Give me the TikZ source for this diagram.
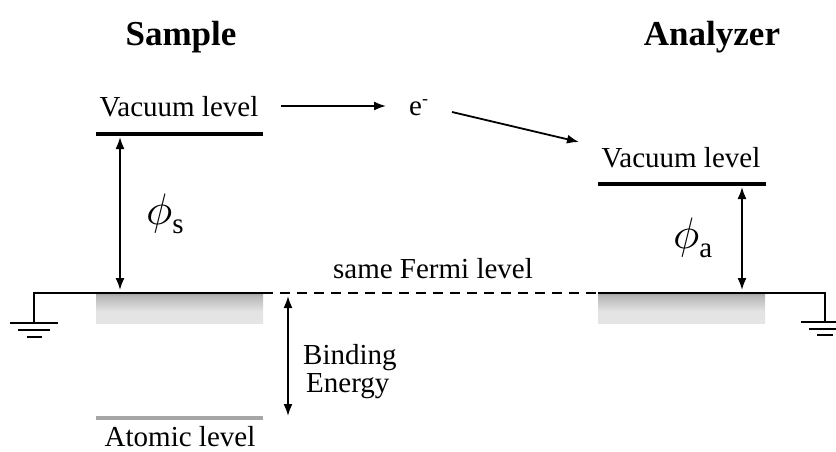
\documentclass[tikz,border=0pt]{standalone}
\usepackage{fontspec}
\setmainfont{Liberation Serif}
\usetikzlibrary{arrows.meta}
% grey band under the Fermi level: dark at the top, light below
\pgfdeclareverticalshading{bandshade}{100bp}{color(0bp)=(black!9); color(45bp)=(black!11); color(70bp)=(black!28); color(90bp)=(black!62); color(100bp)=(black!95)}
\begin{document}
\begin{tikzpicture}[x=1pt,y=-1pt,
  lvl/.style={line width=3.5pt},
  wire/.style={line width=2pt},
  arr/.style={line width=1.8pt,-{Latex[length=12pt,width=9pt]}},
  darr/.style={line width=1.8pt,{Latex[length=12pt,width=9pt]}-{Latex[length=12pt,width=9pt]}},
  txt/.style={inner sep=0pt,anchor=base,font=\fontsize{29}{32}\selectfont},
  title/.style={inner sep=0pt,anchor=base,font=\fontsize{35}{40}\selectfont\bfseries},
  sym/.style={inner sep=0pt,anchor=base west},
  band/.style={shading=bandshade}]
\useasboundingbox (0,0) rectangle (836,452);

% titles
\node[title] (tS) at (181,46) {Sample};
\node[title] (tA) at (712,46) {Analyzer};

% vacuum levels
\node[txt] (vacS) at (179,117) {Vacuum level};
\draw[lvl] (96,134) coordinate (vSl) -- (263,134) coordinate (vSr);
\node[txt] (vacA) at (681,167) {Vacuum level};
\draw[lvl] (598,184) coordinate (vAl) -- (766,184) coordinate (vAr);

% photoelectron
\node[sym,font=\fontsize{29}{32}\selectfont] (e) at (409,115) {e\raisebox{10pt}{\fontsize{18}{18}\selectfont -}};
\coordinate (a1) at (281,106);
\coordinate (a1e) at (386,106);
\coordinate (a2s) at (452,112);
\coordinate (a2) at (579,142);
\draw[arr] (a1) -- (a1e);
\draw[arr] (a2s) -- (a2);

% bands below the Fermi level
\shade[band] (96,293) rectangle (263,323);
\shade[band] (598,293) rectangle (765,323);

% Fermi level and ground wiring
\draw[wire] (34,323) coordinate (gL) -- (34,293) -- (263,293) coordinate (fL);
\draw[wire] (598,293) coordinate (fR) -- (825,293) -- (825,322) coordinate (gR);
\draw[line width=2pt,dash pattern=on 10pt off 7pt] (fL) -- (fR);
\node[txt] (fermi) at (433,278) {same Fermi level};

% ground symbols
\draw[wire] (10,323) -- (58,323) (18,330) -- (50,330) (27,337) -- (42,337);
\draw[wire] (801,322) -- (849,322) (809,329) -- (841,329) (817,335) -- (833,335);

% work functions
\draw[darr] (120,137) coordinate (pS1) -- (120,290) coordinate (pS2);
\node[sym] (phiS) at (146,224) {\scalebox{4.4}{$\phi$}\raisebox{-9pt}{\fontsize{29}{29}\selectfont s}};
\draw[darr] (742,187) coordinate (pA1) -- (742,290) coordinate (pA2);
\node[sym] (phiA) at (673,248) {\scalebox{4.4}{$\phi$}\raisebox{-9.5pt}{\fontsize{29}{29}\selectfont a}};

% binding energy
\draw[darr] (288,296) coordinate (b1) -- (288,416) coordinate (b2);
\node[txt,anchor=base west] (bind) at (303,364) {Binding};
\node[txt,anchor=base west] (ener) at (306,392) {Energy};

% atomic level
\draw[line width=3.5pt,black!35] (96,418) coordinate (atl) -- (263,418) coordinate (atr);
\node[txt] (atom) at (180,446) {Atomic level};
\end{tikzpicture}
\end{document}
